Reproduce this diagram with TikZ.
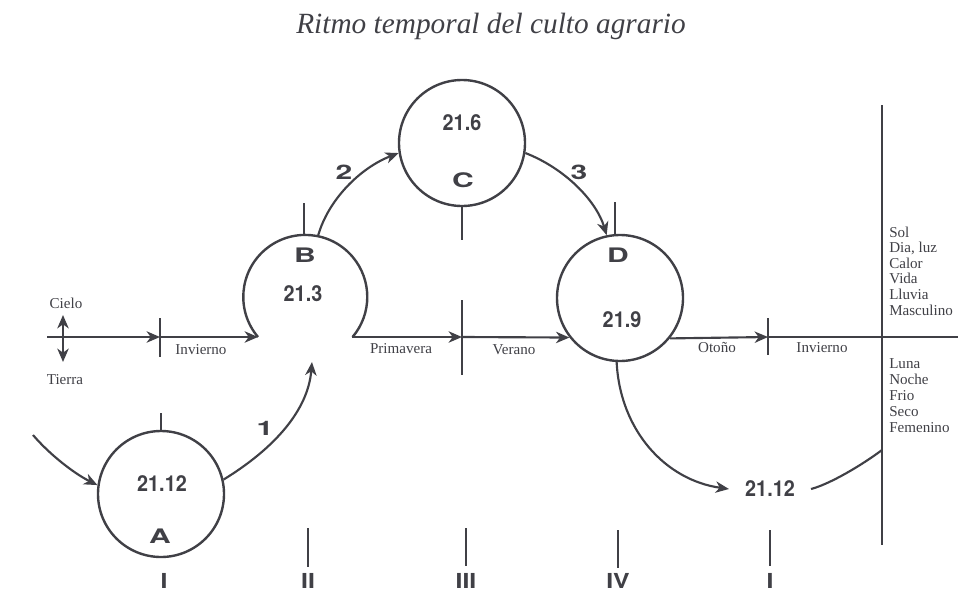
\documentclass[tikz,border=0pt]{standalone}
\usepackage{fontspec}
\setmainfont{Liberation Serif}
\newfontfamily\numfont{TeX Gyre Heros}[FakeStretch=0.9, BoldFeatures={FakeStretch=0.9}]
\newfontfamily\letfont{TeX Gyre Heros}[FakeStretch=1.5, BoldFeatures={FakeStretch=1.5}]
\newfontfamily\romfont{TeX Gyre Heros}[FakeStretch=1.2, BoldFeatures={FakeStretch=1.2}]
\usetikzlibrary{arrows.meta}
\definecolor{ink}{RGB}{64,64,70}
\tikzset{
  tip/.tip={Stealth[length=10pt,width=8.5pt,inset=3pt]},
  ring/.style={circle, draw=ink, line width=1.8pt, minimum size=94.5pt, inner sep=0pt},
  arr/.style={draw=ink, line width=1.6pt, -tip},
  plain/.style={draw=ink, line width=1.6pt},
  tickline/.style={draw=ink, line width=1.1pt},
  lab/.style={text=ink, font=\fontsize{11.3}{13}\selectfont, inner sep=0pt, anchor=base},
  side/.style={text=ink, font=\fontsize{11.3}{13}\selectfont, inner sep=0pt, anchor=base west},
  num/.style={text=ink, font=\numfont\bfseries\fontsize{16.5}{17}\selectfont, inner sep=0pt},
  letr/.style={text=ink, font=\letfont\bfseries\fontsize{15}{15}\selectfont, inner sep=0pt},
  rom/.style={text=ink, font=\romfont\bfseries\fontsize{15.5}{16}\selectfont, inner sep=0pt, anchor=base},
}
\begin{document}
\begin{tikzpicture}[x=0.75pt, y=-0.75pt]
\useasboundingbox (0,0) rectangle (971,607);

% title
\node[text=ink, inner sep=0pt, anchor=base, font=\fontsize{22}{26}\selectfont\itshape] (title) at (491,33) {Ritmo temporal del culto agrario};

% circles
\node[ring] (A) at (161,494) {};
\node[ring] (C) at (462,143) {};
\node[ring] (D) at (620,298) {};
\coordinate (B) at (305,297);
\coordinate (Bl) at (258,337);
\coordinate (Br) at (352,337);
\draw[plain, line width=1.8pt] (Bl) arc[start angle=220.3, end angle=-40.3, radius=46.5pt];

% texts in circles
\node[num] (nA) at (162,484) {21.12};
\node[letr] (lA) at (160,536) {A};
\node[num] (nB) at (303,294) {21.3};
\node[letr] (lB) at (305,255) {B};
\node[num] (nC) at (462,123) {21.6};
\node[letr] (lC) at (463,180) {C};
\node[num] (nD) at (622,320) {21.9};
\node[letr] (lD) at (618,255) {D};
\node[num, inner xsep=12pt] (nE) at (770,489) {21.12};

% main horizontal line
\coordinate (L0) at (47,337);
\coordinate (t1) at (160,337);
\coordinate (t3) at (462,337);
\coordinate (t5) at (768,337);
\coordinate (R0) at (958,337);
\draw[arr] (L0) -- (t1);
\draw[arr] (t1) -- (Bl);
\draw[arr] (Br) -- (t3);
\draw[arr] (t3) -- (D.218.5);
\draw[arr] (D.321.5) -- (t5);
\draw[plain] (t5) -- (R0);

% ticks on main line
\draw[tickline] (160,318) -- (160,357);
\draw[tickline] (462,300) -- (462,375);
\draw[tickline] (768,318) -- (768,355);

% ticks near circles
\draw[tickline] (161,413) -- (A.north);
\draw[tickline] (304,203) -- (304,235);
\draw[tickline] (C.south) -- (462,240);
\draw[tickline] (615,202) -- (615,236);

% season labels
\node[lab] (inv1) at (201,354) {Invierno};
\node[lab] (pri) at (401,353) {Primavera};
\node[lab] (ver) at (514,354) {Verano};
\node[lab] (oto) at (717,352) {Otoño};
\node[lab] (inv2) at (822,352) {Invierno};

% cielo / tierra
\node[lab] (cielo) at (66,308) {Cielo};
\node[lab] (tierra) at (65,384) {Tierra};
\coordinate (ct1) at (63,315);
\coordinate (ct2) at (63,362);
\draw[draw=ink, line width=1.6pt, tip-tip] (ct1) -- (ct2);

% curved connectors
\coordinate (in0) at (33,435);
\draw[arr] (in0) .. controls (50,455) and (75,474) .. (A.172);
\coordinate (up1) at (312,362);
\draw[arr] (A.13) .. controls (275,448) and (308,410) .. (up1);
\coordinate (Btop) at (318,236);
\draw[arr] (Btop) .. controls (328,200) and (360,168) .. (C.189);
\draw[arr] (C.351) .. controls (564,168) and (596,200) .. (D.102);
\draw[arr] (D.267) .. controls (620,430) and (665,480) .. (nE.west);
\coordinate (rj) at (882,450);
\draw[plain] (nE.east) .. controls (830,484) and (862,465) .. (rj);

% step numbers
\node[letr] (s1) at (265,428) {1};
\node[letr] (s2) at (344,172) {2};
\node[letr] (s3) at (579,172) {3};

% right vertical line and lists
\draw[plain, line width=1.3pt] (882,105) -- (882,545);
\node[side] at (889,237) {Sol};
\node[side] at (889,252.6) {Dia, luz};
\node[side] at (889,268.2) {Calor};
\node[side] at (889,283.8) {Vida};
\node[side] at (889,299.4) {Lluvia};
\node[side] at (889,315) {Masculino};
\node[side] at (889,368) {Luna};
\node[side] at (889,384) {Noche};
\node[side] at (889,400) {Frio};
\node[side] at (889,416) {Seco};
\node[side] at (889,432) {Femenino};

% bottom ticks and numerals
\draw[tickline] (308,528) -- (308,567);
\draw[tickline] (466,528) -- (466,566);
\draw[tickline] (618,530) -- (618,568);
\draw[tickline] (770,530) -- (770,566);
\node[rom] (r1) at (164,588) {I};
\node[rom] (r2) at (308,588) {II};
\node[rom] (r3) at (466,588) {III};
\node[rom] (r4) at (618,588) {IV};
\node[rom] (r5) at (770,588) {I};
\end{tikzpicture}
\end{document}
